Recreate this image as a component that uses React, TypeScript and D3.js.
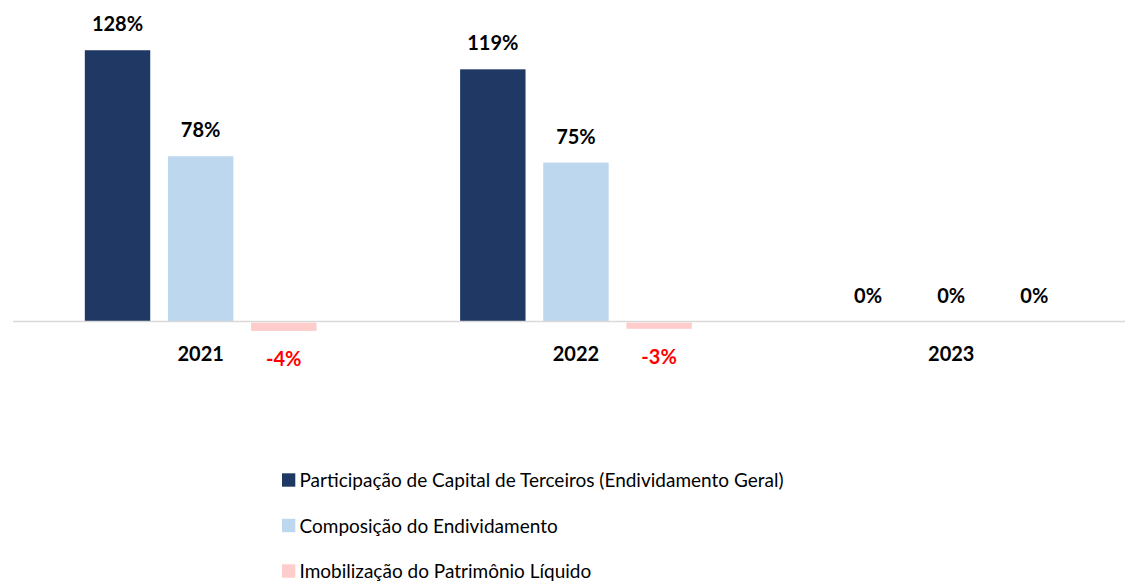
import React, { useEffect } from 'react';
import * as d3 from 'd3';

// data
const years = ['2021', '2022', '2023'];
const seriesNames = [
  'Participação de Capital de Terceiros (Endividamento Geral)',
  'Composição do Endividamento',
  'Imobilização do Patrimônio Líquido',
];
const participacao = [128, 119, 0];
const composicao = [78, 75, 0];
const imobilizacao = [-4.4, -3.4, 0];

const colors = ['#203864', '#BDD7EE', '#FFCCCC'];

const W = 1125;
const H = 582;
const FONT = 'Lato, "Open Sans", sans-serif';

export default function App() {
  useEffect(() => {
    document.body.style.margin = '0';
  }, []);

  const series = [participacao, composicao, imobilizacao];

  const x0 = d3.scaleBand<string>().domain(years).range([13, 13 + 375.3 * 3]);
  const x1 = d3
    .scaleBand<number>()
    .domain([0, 1, 2])
    .range([0, x0.bandwidth()])
    .paddingInner(0.213)
    .paddingOuter(0.864);

  const zeroY = 321.6;
  const pxPer = 2.12;
  const y = d3
    .scaleLinear()
    .domain([-10, 140])
    .range([zeroY + 10 * pxPer, zeroY - 140 * pxPer]);

  const fmt = (v: number) => `${Math.round(v)}%`;

  return (
    <svg width={W} height={H} style={{ display: 'block', background: '#fff' }}>
      {years.map((yr, i) => (
        <g key={yr} transform={`translate(${x0(yr)},0)`}>
          {series.map((vals, s) => {
            const v = vals[i];
            const bx = x1(s)!;
            const top = Math.min(y(v), y(0));
            const h = Math.abs(y(v) - y(0));
            const cx = bx + x1.bandwidth() / 2;
            const neg = v < 0;
            return (
              <g key={s}>
                {h > 0 && (
                  <rect x={bx} y={neg ? y(0) + 1 : top} width={x1.bandwidth()} height={neg ? h - 1 : h} fill={colors[s]} />
                )}
                <text
                  x={cx}
                  y={neg ? y(v) + 35 : y(v) - 19}
                  textAnchor="middle"
                  fontFamily={FONT}
                  fontWeight="bold"
                  fontSize={20}
                  fill={neg ? '#FF0000' : '#000'}
                >
                  {fmt(v)}
                </text>
              </g>
            );
          })}
        </g>
      ))}

      <line x1={13} x2={W} y1={y(0)} y2={y(0)} stroke="#D9D9D9" strokeWidth={1.5} />

      {years.map((yr) => (
        <text
          key={yr}
          x={x0(yr)! + x0.bandwidth() / 2}
          y={360.5}
          textAnchor="middle"
          fontFamily={FONT}
          fontWeight="bold"
          fontSize={20}
          fill="#000"
        >
          {yr}
        </text>
      ))}

      {seriesNames.map((name, s) => (
        <g key={name} transform={`translate(282,${473.3 + s * 45.5})`}>
          <rect x={0} y={0} width={13.3} height={13.4} fill={colors[s]} />
          <text x={17.5} y={14} fontFamily={FONT} fontSize={19} fill="#000">
            {name}
          </text>
        </g>
      ))}
    </svg>
  );
}
